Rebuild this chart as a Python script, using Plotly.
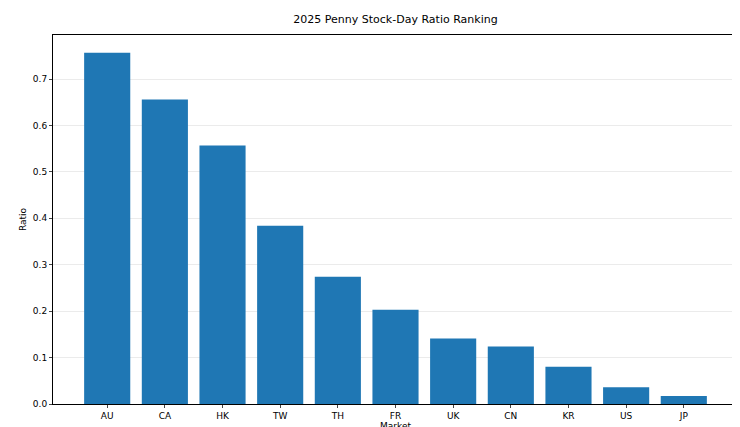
import plotly.graph_objects as go

markets = ["AU","CA","HK","TW","TH","FR","UK","CN","KR","US","JP"]
ratios = [0.757,0.656,0.557,0.384,0.274,0.203,0.141,0.124,0.080,0.036,0.017]

fig = go.Figure(go.Bar(x=list(range(len(markets))), y=ratios, width=0.8,
                       marker=dict(color="#1f77b4", line=dict(width=0))))
fig.update_layout(
    width=740, height=427, margin=dict(l=45, r=10, t=27, b=31, autoexpand=False),
    plot_bgcolor="white", paper_bgcolor="white",
    font=dict(family="DejaVu Sans", size=9, color="black"),
    title=dict(text="2025 Penny Stock-Day Ratio Ranking", x=0.5, xanchor="center",
               xref="paper", yref="container", y=0.974, yanchor="middle", font=dict(size=11)),
    showlegend=False,
)
fig.update_xaxes(tickvals=list(range(len(markets))), ticktext=markets, automargin=False,
                 range=[-0.94, 10.94], showgrid=False, showline=True, mirror=True,
                 linecolor="black", linewidth=1, ticks="outside", ticklen=3,
                 title=dict(text="Market", standoff=2, font=dict(size=9)))
fig.update_yaxes(range=[0, 0.795], dtick=0.1, tickformat=".1f", showgrid=True, automargin=False,
                 gridcolor="#ebebeb", showline=True, mirror=True, linecolor="black",
                 linewidth=1, ticks="outside", ticklen=3, zeroline=False,
                 title=dict(text="Ratio", standoff=4, font=dict(size=9)))
fig.write_html("out.html")
